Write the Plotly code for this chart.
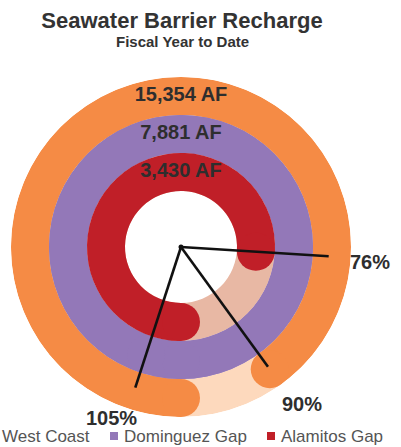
import plotly.graph_objects as go

# ---- data ----
barriers = ["West Coast", "Dominguez Gap", "Alamitos Gap"]
volumes_af = [15354, 7881, 3430]
percents = [90, 105, 76]

# ---- style ----
colors = ["#F58B45", "#9378B8", "#C01F28"]
track_colors = ["#FDD9BD", "#9378B8", "#E8B8A4"]
ring_center = [2.5, 1.5, 0.5]   # radial position of each ring (outer -> inner)
RING_PX = 38                    # ring thickness in pixels
R_MIN = -56 / 38                # radial value mapped to centre (white hole)
W, H = 401, 447
cx, cy, R = 181, 247, 170
FONT = "Liberation Sans, Arial, sans-serif"
TXT = "#2e2e2e"

fig = go.Figure()

# background tracks
for i, name in enumerate(barriers):
    fig.add_trace(go.Barpolar(
        r=[1], base=[ring_center[i] - 0.5], theta=[180], width=[360],
        marker=dict(color=track_colors[i], line=dict(width=0)),
        showlegend=False, hoverinfo="skip"))

# value arcs (start at bottom, clockwise)
for i, name in enumerate(barriers):
    span = min(percents[i], 100) * 3.6
    fig.add_trace(go.Barpolar(
        r=[1], base=[ring_center[i] - 0.5], theta=[span / 2], width=[span],
        marker=dict(color=colors[i], line=dict(width=0)),
        name=name, showlegend=False))

# rounded caps
for i, name in enumerate(barriers):
    fig.add_trace(go.Scatterpolar(
        r=[ring_center[i], ring_center[i]], theta=[0, percents[i] * 3.6],
        mode="markers",
        marker=dict(color=colors[i], size=RING_PX, line=dict(width=0)),
        showlegend=False, hoverinfo="skip"))

# pointer lines from centre to each percent position
for i, name in enumerate(barriers):
    fig.add_trace(go.Scatterpolar(
        r=[R_MIN, 2.42], theta=[percents[i] * 3.6, percents[i] * 3.6],
        mode="lines", line=dict(color="#111111", width=2.6),
        showlegend=False, hoverinfo="skip"))
fig.add_trace(go.Scatterpolar(
    r=[R_MIN], theta=[0], mode="markers",
    marker=dict(color="#111111", size=5), showlegend=False, hoverinfo="skip"))

# volume labels at top of each ring
fig.add_trace(go.Scatterpolar(
    r=ring_center, theta=[180, 180, 180], mode="text",
    text=[f"{v:,} AF" for v in volumes_af],
    textfont=dict(family=FONT, size=20, color=TXT, weight="bold"),
    showlegend=False, hoverinfo="skip"))

# percent labels
pct_pos = {"West Coast": (302, 404), "Dominguez Gap": (111, 418), "Alamitos Gap": (370, 262)}
for i, name in enumerate(barriers):
    px_, py_ = pct_pos[name]
    fig.add_annotation(
        x=px_ / W, y=1 - py_ / H, xref="paper", yref="paper",
        text=f"{percents[i]}%", showarrow=False,
        font=dict(family=FONT, size=20, color=TXT, weight="bold"),
        xanchor="center", yanchor="middle")

# subtitle
fig.add_annotation(
    x=182 / W, y=1 - 42 / H, xref="paper", yref="paper",
    text="Fiscal Year to Date", showarrow=False,
    font=dict(family=FONT, size=15, color="#333333", weight="bold"),
    xanchor="center", yanchor="middle")

# legend (drawn manually to match the compact layout)
leg_sq_x = [-14, 110, 267]      # left edge of square, px
leg_txt_x = [0, 122, 279]       # left edge of text, px
leg_y = 436
for i, name in enumerate(barriers):
    fig.add_shape(type="rect", xref="paper", yref="paper",
                  x0=leg_sq_x[i] / W, x1=(leg_sq_x[i] + 8) / W,
                  y0=1 - (leg_y + 4) / H, y1=1 - (leg_y - 4) / H,
                  fillcolor=colors[i], line=dict(width=0))
    fig.add_annotation(x=leg_txt_x[i] / W, y=1 - leg_y / H, xref="paper", yref="paper",
                       text=name, showarrow=False, xanchor="left", yanchor="middle",
                       font=dict(family=FONT, size=17, color="#555555"))

fig.update_layout(
    width=W, height=H,
    margin=dict(l=0, r=0, t=0, b=0, autoexpand=False),
    paper_bgcolor="white", plot_bgcolor="white",
    title=dict(text="Seawater Barrier Recharge", x=182 / W, y=1 - 20 / H,
               xanchor="center", yanchor="middle",
               font=dict(family=FONT, size=22, color="#333333", weight="bold")),
    polar=dict(
        domain=dict(x=[(cx - R) / W, (cx + R) / W], y=[(H - cy - R) / H, (H - cy + R) / H]),
        bgcolor="white",
        angularaxis=dict(visible=False, direction="clockwise", rotation=-90),
        radialaxis=dict(visible=False, range=[R_MIN, 3]),
        barmode="overlay",
    ),
    showlegend=False,
)

fig.write_html("out.html", config={"displayModeBar": False},
               post_script="document.body.style.margin='0';")
